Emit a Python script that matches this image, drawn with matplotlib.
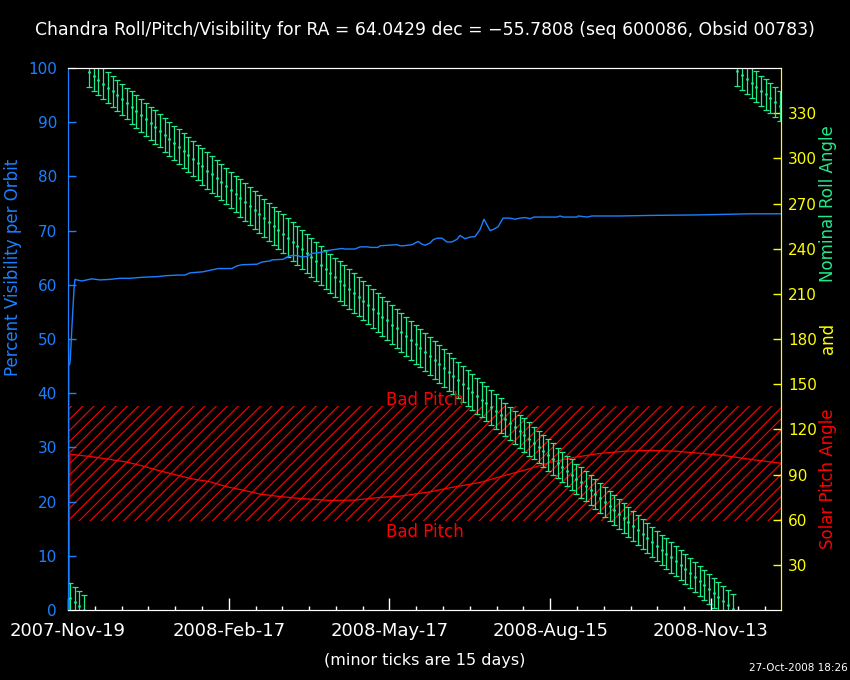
import numpy as np
import matplotlib
matplotlib.use("Agg")
import matplotlib.pyplot as plt
from matplotlib.ticker import MultipleLocator

# days counted from 2007-Nov-19
tick_days = [0, 90, 180, 270, 360]
tick_labels = ['2007-Nov-19', '2008-Feb-17', '2008-May-17', '2008-Aug-15', '2008-Nov-13']

# percent visibility per orbit
vis_day = [0.6, 1.1, 1.7, 2.2, 2.8, 3.4, 3.9, 5.0, 7.7, 10.6, 13.3, 17.9, 23.5, 29.1, 34.7,
           42.0, 49.8, 55.4, 62.7, 65.5, 68.3, 75.6, 78.4, 84.0, 91.8, 94.6, 97.4, 105.8,
           108.6, 113.1, 114.2, 120.4, 123.2, 125.4, 128.8, 129.9, 133.8, 136.6, 140.0,
           145.0, 146.7, 153.4, 155.1, 160.7, 163.5, 168.0, 169.1, 173.6, 174.7, 184.2,
           185.9, 187.6, 192.6, 196.0, 198.2, 199.9, 202.7, 204.4, 206.6, 209.4, 212.2,
           215.0, 217.8, 219.5, 222.3, 225.1, 227.9, 230.7, 232.9, 236.3, 238.0, 240.8,
           243.6, 247.5, 250.3, 253.1, 255.9, 258.7, 260.9, 273.8, 275.5, 277.2, 285.0,
           285.6, 290.6, 293.4, 309.1, 325.9, 353.9, 381.9, 399.2]
vis_pct = [45.2, 45.5, 48.9, 52.3, 55.8, 59.4, 61.0, 60.9, 60.7, 60.9, 61.1, 60.9, 61.0, 61.2, 61.2,
           61.4, 61.5, 61.7, 61.8, 61.8, 62.2, 62.4, 62.6, 63.0, 63.0, 63.5, 63.7, 63.8,
           64.2, 64.4, 64.6, 64.7, 65.2, 65.4, 65.4, 65.2, 65.2, 65.8, 65.9,
           66.2, 66.4, 66.7, 66.6, 66.6, 67.0, 67.0, 66.9, 66.9, 67.2, 67.4,
           67.2, 67.2, 67.4, 68.0, 67.5, 67.3, 67.7, 68.3, 68.6, 68.6, 67.9,
           67.9, 68.4, 69.1, 68.5, 68.8, 68.9, 70.2, 72.1, 70.0, 70.2, 70.7,
           72.3, 72.3, 72.1, 72.3, 72.4, 72.2, 72.5, 72.5, 72.7, 72.5, 72.5,
           72.7, 72.5, 72.7, 72.7, 72.8, 72.9, 73.1, 73.1]

# solar pitch angle
pitch_day = [0.5, 0.5, 1.1, 14.0, 23.5, 33.0, 42.0, 51.5, 61.0, 70.0, 79.5, 89.0, 98.0, 107.5, 117.0,
             126.0, 134.4, 146.7, 160.7, 174.7, 185.9, 202.7, 213.9, 230.7, 241.9, 255.9,
             269.9, 283.9, 297.9, 311.9, 325.9, 339.9, 353.9, 367.9, 381.9, 399.2]
pitch_deg = [179.0, 0.0, 103.5, 101.7, 100.0, 98.2, 95.6, 92.4, 89.6, 87.0, 85.2, 81.8, 79.6, 77.0, 75.6,
             74.5, 73.7, 72.8, 73.0, 74.8, 75.6, 78.5, 81.2, 84.7, 88.5, 93.0,
             98.0, 101.5, 104.0, 105.5, 106.0, 105.5, 104.1, 102.5, 100.1, 97.5]

# nominal roll angle per orbit, with allowed range
roll_day = [1.1, 3.8, 6.4, 9.1, 11.7, 14.4, 17.0, 19.7, 22.3, 25.0, 27.6, 30.3, 32.9, 35.6,
            38.2, 40.9, 43.5, 46.2, 48.8, 51.5, 54.1, 56.8, 59.4, 62.1, 64.7, 67.4, 70.0, 72.7,
            75.3, 78.0, 80.6, 83.3, 85.9, 88.6, 91.2, 93.9, 96.5, 99.2, 101.8, 104.5, 107.1,
            109.8, 112.4, 115.1, 117.7, 120.4, 123.0, 125.7, 128.3, 131.0, 133.6, 136.3, 138.9,
            141.6, 144.2, 146.9, 149.5, 152.2, 154.8, 157.5, 160.1, 162.8, 165.4, 168.1, 170.7,
            173.4, 176.0, 178.7, 181.3, 184.0, 186.6, 189.3, 191.9, 194.6, 197.2, 199.9, 202.5,
            205.2, 207.8, 210.5, 213.1, 215.8, 218.4, 221.1, 223.7, 226.4, 229.0, 231.7, 234.3,
            237.0, 239.6, 242.3, 244.9, 247.6, 250.2, 252.9, 255.5, 258.2, 260.8, 263.5, 266.1,
            268.8, 271.4, 274.1, 276.7, 279.4, 282.0, 284.7, 287.3, 290.0, 292.6, 295.3, 297.9,
            300.6, 303.2, 305.9, 308.5, 311.2, 313.8, 316.5, 319.1, 321.8, 324.4, 327.1, 329.7,
            332.4, 335.0, 337.7, 340.3, 343.0, 345.6, 348.3, 350.9, 353.6, 356.2, 358.9, 361.5,
            364.2, 366.8, 369.5, 372.1, 374.8, 377.4, 380.1, 382.7, 385.4, 388.0, 390.7, 393.3,
            396.0, 398.6]
roll_deg = [8.0, 5.4, 2.8, 0.1, 357.5, 354.9, 352.3, 349.6, 347.0, 344.4, 341.8, 339.1, 336.5, 333.9,
            331.3, 328.7, 326.0, 323.4, 320.8, 318.2, 315.5, 312.9, 310.3, 307.7, 305.0, 302.4,
            299.8, 297.2, 294.6, 291.9, 289.3, 286.7, 284.1, 281.4, 278.8, 276.2, 273.6, 270.9,
            268.3, 265.7, 263.1, 260.5, 257.8, 255.2, 252.6, 250.0, 247.3, 244.7, 242.1, 239.5,
            236.9, 234.2, 231.6, 229.0, 226.4, 223.7, 221.1, 218.5, 215.9, 213.2, 210.6, 208.0,
            205.4, 202.8, 200.1, 197.5, 194.9, 192.3, 189.6, 187.0, 184.4, 181.8, 179.1, 176.5,
            173.9, 171.3, 168.7, 166.0, 163.4, 160.8, 158.2, 155.5, 152.9, 150.3, 147.7, 145.0,
            142.4, 139.8, 137.2, 134.6, 131.9, 129.3, 126.7, 124.1, 121.4, 118.8, 116.2, 113.6,
            110.9, 108.3, 105.7, 103.1, 100.5, 97.8, 95.2, 92.6, 90.0, 87.3, 84.7, 82.1, 79.5,
            76.8, 74.2, 71.6, 69.0, 66.4, 63.7, 61.1, 58.5, 55.9, 53.2, 50.6, 48.0, 45.4, 42.7,
            40.1, 37.5, 34.9, 32.3, 29.6, 27.0, 24.4, 21.8, 19.1, 16.5, 13.9, 11.3, 8.6, 6.0,
            3.4, 0.8, 358.2, 355.5, 352.9, 350.3, 347.7, 345.0, 342.4, 339.8, 337.2, 334.6]
roll_tol = ([10.0] * 7 + [10.5] * 6 + [11.0] * 7 + [11.5] * 8 + [12.0] * 8 + [12.5] * 9 +
            [13.0] * 29 + [12.5] * 7 + [12.0] * 6 + [11.5] * 5 + [11.0] * 6 + [10.5] * 5 +
            [10.0] * 48)

bad_pitch = [59.1, 135.4]

blue = '#1a80ff'
green = '#1eeb8c'
yellow = '#ffff00'
red = '#ff0000'

plt.rcParams['hatch.linewidth'] = 0.8

fig = plt.figure(figsize=(8.5, 6.8), dpi=100, facecolor='black')
ax = fig.add_axes([68 / 850, 1 - 610 / 680, (781 - 68) / 850, (610 - 68) / 680])
ax2 = ax.twinx()
ax.set_zorder(ax2.get_zorder() + 1)
ax.patch.set_visible(False)
ax2.set_facecolor('black')

# bad pitch zone and pitch curve
ax2.axhspan(bad_pitch[0], bad_pitch[1], fill=False, hatch='///', edgecolor=red, linewidth=0)
ax2.plot(pitch_day, pitch_deg, color=red, lw=0.9)
ax2.text(200, 136, 'Bad Pitch', color=red, fontsize=12, ha='center', va='baseline')
ax2.text(200, 48.4, 'Bad Pitch', color=red, fontsize=12, ha='center', va='baseline')

# roll angle bars
ax2.errorbar(roll_day, roll_deg, yerr=roll_tol, fmt='.', ms=2, color=green,
             ecolor=green, elinewidth=0.9, capsize=2.4, capthick=0.9)

# visibility
ax.plot(vis_day, vis_pct, color=blue, lw=1.0)

ax.set_xlim(0, 399.2)
ax.set_ylim(0, 100)
ax2.set_ylim(0, 360)

ax.set_xticks(tick_days)
ax.set_xticklabels(tick_labels)
ax.xaxis.set_minor_locator(MultipleLocator(15))
ax.tick_params(axis='x', which='major', direction='in', length=8.5, width=1,
               color='white', labelcolor='white', labelsize=13, pad=9)
ax.tick_params(axis='x', which='minor', direction='in', length=3, width=1, color='white')

ax.set_yticks(range(0, 101, 10))
ax.tick_params(axis='y', direction='in', length=6, width=1, color=blue,
               labelcolor=blue, labelsize=11, pad=8)

ax2.set_yticks(range(30, 331, 30))
ax2.tick_params(axis='y', direction='in', length=6, width=1, color=yellow,
                labelcolor=yellow, labelsize=11, pad=5)

for a in (ax, ax2):
    a.spines['left'].set_color(blue)
    a.spines['right'].set_color(yellow)
    a.spines['top'].set_color('white')
    a.spines['bottom'].set_color('white')

fig.text(0.5, 0.956, 'Chandra Roll/Pitch/Visibility for RA = 64.0429 dec = \u221255.7808 (seq 600086, Obsid 00783)',
         color='white', fontsize=12.4, ha='center', va='center')
fig.text(0.5, 0.028, '(minor ticks are 15 days)', color='white', fontsize=11.5,
         ha='center', va='center')
fig.text(0.997, 0.0176, '27-Oct-2008 18:26', color='white', fontsize=7.5,
         ha='right', va='center')
fig.text(0.015, 0.607, 'Percent Visibility per Orbit', color=blue, fontsize=12,
         rotation=90, ha='center', va='center')
fig.text(0.974, 0.70, 'Nominal Roll Angle', color=green, fontsize=12,
         rotation=90, ha='center', va='center')
fig.text(0.974, 0.503, 'and', color=yellow, fontsize=12,
         rotation=90, ha='center', va='center')
fig.text(0.974, 0.2956, 'Solar Pitch Angle', color=red, fontsize=12,
         rotation=90, ha='center', va='center')

fig.savefig('out.png', dpi=100, facecolor='black')
